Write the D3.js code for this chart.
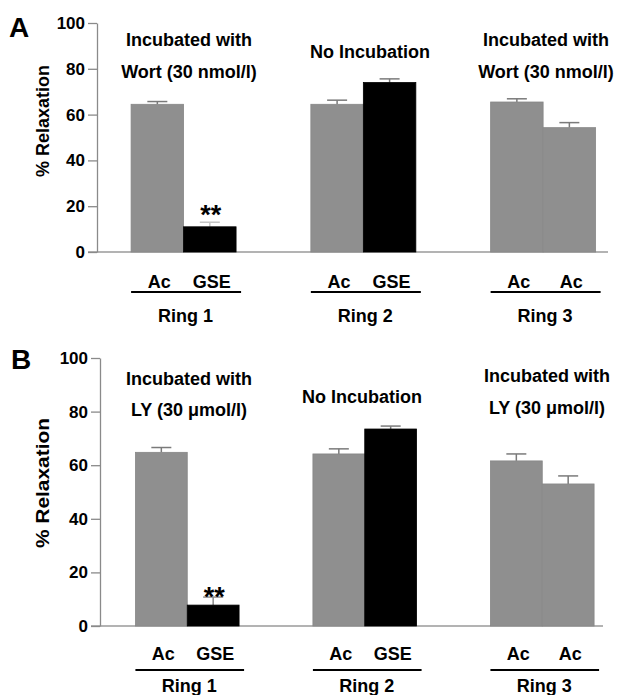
<!DOCTYPE html>
<html>
<head>
<meta charset="utf-8">
<script src="https://cdn.jsdelivr.net/npm/d3@7"></script>
<style>
  html, body { margin: 0; padding: 0; background: #fff; }
  svg { display: block; }
  text { font-family: "Liberation Sans", Arial, sans-serif; font-weight: bold; fill: #000; }
</style>
</head>
<body>
<svg id="chart" width="621" height="695"></svg>
<script>
// ---------------- data ----------------
const rings = ["Ring 1", "Ring 2", "Ring 3"];
const barLabels = [["Ac", "GSE"], ["Ac", "GSE"], ["Ac", "Ac"]];
const barKinds = [["Ac", "GSE"], ["Ac", "GSE"], ["Ac", "Ac"]];
const yTicks = [0, 20, 40, 60, 80, 100];

const valuesA = [[64.5, 11.0], [64.5, 74.0], [65.5, 54.3]];
const errorsA = [[1.2, 2.0], [1.8, 1.6], [1.4, 2.2]];
const notesA = [["Incubated with", "Wort (30 nmol/l)"], ["No Incubation"], ["Incubated with", "Wort (30 nmol/l)"]];

const valuesB = [[64.8, 7.8], [64.2, 73.5], [61.6, 53.0]];
const errorsB = [[1.8, 3.0], [1.9, 1.1], [2.6, 3.0]];
const notesB = [["Incubated with", "LY (30 μmol/l)"], ["No Incubation"], ["Incubated with", "LY (30 μmol/l)"]];

const sigMarks = [[null, "**"], [null, null], [null, null]];

// ---------------- layout ----------------
const svg = d3.select("#chart");
const colors = { Ac: "#8f8f8f", GSE: "#000000" };

const panels = [
  { letter: "A", values: valuesA, errors: errorsA, notes: notesA,
    axisX: 97, y0: 252, y1: 23, xEnd: 608, bandRange: [93.7, 633],
    letterPos: [9, 37], titleY: 121, titleLen: null,
    noteY: [[46, 78], [58], [46, 78]], noteX: [189, 370, 546],
    labelY: 288, lineY: 292, ringY: 322, sigErrColor: "#c4c4c4", sigOffset: 2 },
  { letter: "B", values: valuesB, errors: errorsB, notes: notesB,
    axisX: 100, y0: 626, y1: 358, xEnd: 603, bandRange: [98.5, 631],
    letterPos: [11, 369], titleY: 483, titleLen: 130,
    noteY: [[385, 416], [403], [382, 414]], noteX: [189, 362, 547],
    labelY: 660, lineY: 670, ringY: 692, sigErrColor: "#8a8a8a", sigOffset: 9 }
];

panels.forEach(p => {
  const g = svg.append("g");
  const y = d3.scaleLinear().domain([0, 100]).range([p.y0, p.y1]);
  const x0 = d3.scaleBand().domain(rings).range(p.bandRange)
    .paddingInner(0.416).paddingOuter(0.208);
  const x1 = d3.scaleBand().domain([0, 1]).range([0, x0.bandwidth()]);

  // x axis baseline
  g.append("line")
    .attr("x1", p.axisX - 9).attr("x2", p.xEnd)
    .attr("y1", y(0)).attr("y2", y(0))
    .attr("stroke", "#9a9a9a").attr("stroke-width", 1.5);

  // y axis
  const yAxis = d3.axisLeft(y).tickValues(yTicks).tickSize(9).tickSizeOuter(0).tickPadding(3);
  const ya = g.append("g").attr("transform", `translate(${p.axisX},0)`).call(yAxis);
  ya.select(".domain").attr("stroke", "#8a8a8a").attr("stroke-width", 1.3);
  ya.selectAll(".tick line").attr("stroke", "#8a8a8a").attr("stroke-width", 1.3);
  ya.selectAll(".tick text")
    .style("font-family", '"Liberation Sans", Arial, sans-serif')
    .style("font-weight", "bold").style("font-size", "17px").attr("fill", "#000");

  // y title
  const t = g.append("text")
    .attr("transform", `translate(49,${p.titleY}) rotate(-90)`)
    .attr("text-anchor", "middle")
    .style("font-size", "18px")
    .text("% Relaxation");
  if (p.titleLen) t.attr("textLength", p.titleLen).attr("lengthAdjust", "spacingAndGlyphs");

  // panel letter
  g.append("text").attr("x", p.letterPos[0]).attr("y", p.letterPos[1])
    .style("font-size", "28px").text(p.letter);

  rings.forEach((ring, gi) => {
    const gx = x0(ring);
    const grp = g.append("g").attr("transform", `translate(${gx},0)`);
    const data = p.values[gi].map((v, i) => ({
      v, e: p.errors[gi][i], kind: barKinds[gi][i], label: barLabels[gi][i],
      sig: sigMarks[gi][i], i }));

    // error bars (behind bars)
    data.forEach(d => {
      const cx = x1(d.i) + x1.bandwidth() / 2;
      const col = d.sig ? p.sigErrColor : "#7a7a7a";
      grp.append("line").attr("x1", cx).attr("x2", cx)
        .attr("y1", y(d.v)).attr("y2", y(d.v + d.e))
        .attr("stroke", col).attr("stroke-width", 1.5);
      grp.append("line").attr("x1", cx - 10).attr("x2", cx + 10)
        .attr("y1", y(d.v + d.e)).attr("y2", y(d.v + d.e))
        .attr("stroke", col).attr("stroke-width", 1.5);
      if (d.sig) {
        grp.append("text").attr("x", cx + 1).attr("y", y(d.v + d.e) + p.sigOffset)
          .attr("text-anchor", "middle").style("font-size", "27px").text(d.sig);
      }
    });

    grp.selectAll("rect.bar").data(data).join("rect")
      .attr("class", "bar")
      .attr("x", d => x1(d.i))
      .attr("width", x1.bandwidth())
      .attr("y", d => y(d.v))
      .attr("height", d => y(0) - y(d.v))
      .attr("fill", d => colors[d.kind])
      .attr("stroke", d => d.kind === "GSE" ? "#000" : "#878787")
      .attr("stroke-width", 0.8);

    // bar labels
    grp.selectAll("text.blab").data(data).join("text")
      .attr("class", "blab")
      .attr("x", d => x1(d.i) + x1.bandwidth() / 2 + 2)
      .attr("y", p.labelY)
      .attr("text-anchor", "middle")
      .style("font-size", "18px")
      .text(d => d.label);

    // underline
    grp.append("line").attr("x1", 0).attr("x2", x0.bandwidth() + 5)
      .attr("y1", p.lineY).attr("y2", p.lineY)
      .attr("stroke", "#000").attr("stroke-width", 2);

    // ring label
    grp.append("text").attr("x", x0.bandwidth() / 2 + 2).attr("y", p.ringY)
      .attr("text-anchor", "middle").style("font-size", "18px").text(ring);

    // notes
    p.notes[gi].forEach((line, li) => {
      g.append("text").attr("x", p.noteX[gi]).attr("y", p.noteY[gi][li])
        .attr("text-anchor", "middle").style("font-size", "18px").text(line);
    });
  });
});
</script>
</body>
</html>
